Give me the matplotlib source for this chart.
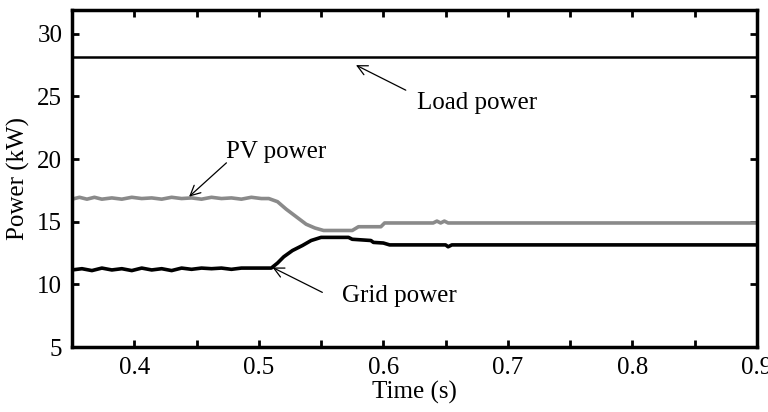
import matplotlib
matplotlib.use("Agg")
import matplotlib.pyplot as plt

# values (kW vs s)
load_time = [0.35, 0.9]
load_kw = [28.15, 28.15]

pv_time = [0.35, 0.356, 0.362, 0.368, 0.374, 0.382, 0.39, 0.398, 0.406, 0.414,
           0.422, 0.43, 0.438, 0.446, 0.454, 0.462, 0.47, 0.478, 0.486, 0.494,
           0.502, 0.508, 0.515, 0.522, 0.53, 0.538, 0.545, 0.552, 0.575, 0.58,
           0.598, 0.601, 0.64, 0.643, 0.646, 0.649, 0.652, 0.9]
pv_kw = [16.8, 16.95, 16.8, 16.95, 16.8, 16.9, 16.8, 16.95, 16.85, 16.9,
         16.8, 16.95, 16.85, 16.9, 16.8, 16.95, 16.85, 16.9, 16.8, 16.95,
         16.85, 16.85, 16.6, 16.0, 15.4, 14.8, 14.5, 14.3, 14.3, 14.6,
         14.6, 14.9, 14.9, 15.05, 14.9, 15.05, 14.9, 14.9]

grid_time = [0.35, 0.358, 0.366, 0.374, 0.382, 0.39, 0.398, 0.406, 0.414, 0.422,
             0.43, 0.438, 0.446, 0.454, 0.462, 0.47, 0.478, 0.486, 0.494, 0.51,
             0.515, 0.52, 0.527, 0.535, 0.542, 0.55, 0.572, 0.575, 0.59, 0.592,
             0.6, 0.605, 0.65, 0.652, 0.655, 0.9]
grid_kw = [11.15, 11.25, 11.1, 11.3, 11.15, 11.25, 11.1, 11.3, 11.15, 11.25,
           11.1, 11.3, 11.2, 11.3, 11.25, 11.3, 11.2, 11.3, 11.3, 11.3,
           11.7, 12.2, 12.7, 13.1, 13.5, 13.75, 13.75, 13.6, 13.5, 13.35,
           13.3, 13.15, 13.15, 13.0, 13.15, 13.15]

x_ticks = [0.35 + 0.05 * i for i in range(12)]
y_ticks = [5, 10, 15, 20, 25, 30]

plt.rcParams['font.family'] = ['Liberation Serif', 'DejaVu Serif']
plt.rcParams['font.size'] = 18

fig = plt.figure(figsize=(7.68, 4.12), dpi=100)
ax = fig.add_axes([72 / 768, 1 - 347 / 412, (757 - 72) / 768, (347 - 10) / 412])

ax.plot(load_time, load_kw, color='black', lw=1.8)
ax.plot(pv_time, pv_kw, color='#8a8a8a', lw=2.6)
ax.plot(grid_time, grid_kw, color='black', lw=2.6)

ax.set_xlim(0.35, 0.9)
ax.set_ylim(5, 31.9)
ax.set_xticks(x_ticks)
ax.set_xticklabels(['' if round(t * 100) % 10 else f'{t:.1f}' for t in x_ticks])
ax.set_yticks(y_ticks)
ax.tick_params(direction='in', top=True, right=True, length=5, width=2, pad=7)
for s in ax.spines.values():
    s.set_linewidth(2.5)

ax.set_xlabel('Time (s)', labelpad=1.5)
ax.set_ylabel('Power (kW)', labelpad=5)

arrow = dict(arrowstyle='->', color='black', lw=0.9, shrinkA=0, shrinkB=0)
ax.annotate('', xy=(0.578, 27.5), xytext=(0.618, 25.5), arrowprops=arrow)
ax.text(0.627, 24.5, 'Load power', va='center', ha='left')
ax.annotate('', xy=(0.444, 17.0), xytext=(0.474, 19.7), arrowprops=arrow)
ax.text(0.474, 20.6, 'PV power', va='center', ha='left')
ax.annotate('', xy=(0.511, 11.35), xytext=(0.551, 9.36), arrowprops=arrow)
ax.text(0.567, 9.04, 'Grid power', va='center', ha='left')

fig.savefig('out.png', dpi=100)
